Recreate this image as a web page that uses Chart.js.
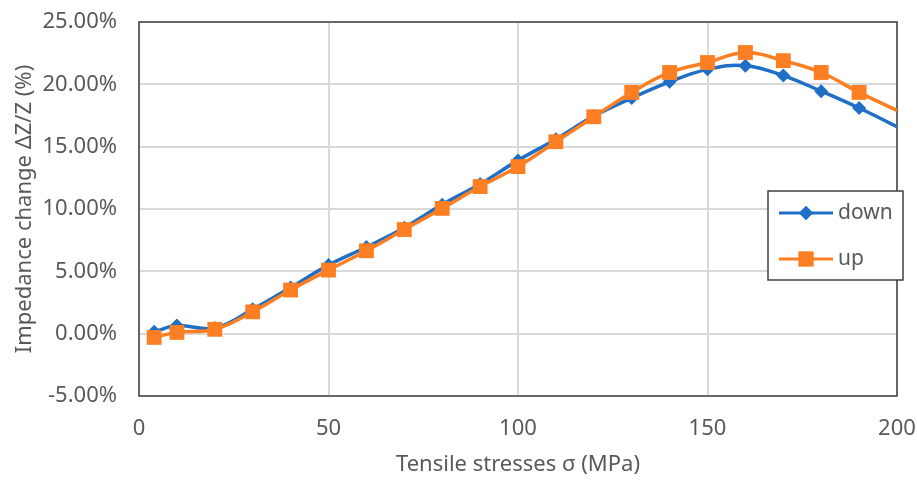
<!DOCTYPE html>
<html>
<head>
<meta charset="utf-8">
<script src="https://cdn.jsdelivr.net/npm/chart.js@4.4.1/dist/chart.umd.min.js"></script>
<style>
  html, body { margin: 0; padding: 0; background: #fff; overflow: hidden; }
  #wrap { width: 917px; height: 482px; position: relative; }
  canvas { display: block; }
</style>
</head>
<body>
<div id="wrap"><canvas id="impedance_chart"></canvas></div>
<script>
// Tensile stress (MPa) and impedance change (%)
var stress = [4, 10, 20, 30, 40, 50, 60, 70, 80, 90, 100, 110, 120, 130, 140, 150, 160, 170, 180, 190, 200];
var down = [0.15, 0.65, 0.45, 1.95, 3.7, 5.5, 6.95, 8.5, 10.35, 12.0, 13.9, 15.6, 17.45, 18.9, 20.2, 21.2, 21.5, 20.7, 19.45, 18.1, 16.6];
var up = [-0.3, 0.1, 0.35, 1.75, 3.5, 5.1, 6.65, 8.35, 10.05, 11.8, 13.4, 15.4, 17.4, 19.35, 20.95, 21.75, 22.55, 21.9, 20.95, 19.35, 17.9];
var xTicks = [0, 50, 100, 150, 200];
var yTicks = [-5, 0, 5, 10, 15, 20, 25];

var blue = '#1f6fc6';
var orange = '#fd7f23';
var textColor = '#595959';
var fontFamily = "'Noto Sans', 'Open Sans', sans-serif";

function toPoints(ys) {
    return stress.map(function(x, i) { return {x: x, y: ys[i]}; });
}
// last point sits on the right border without a marker
var radiusList = function(r) {
    return stress.map(function(x, i) { return i === stress.length - 1 ? 0 : r; });
};

// plot frame and legend box (drawn like the spreadsheet original)
var framePlugin = {
    id: 'frame',
    beforeDatasetsDraw: function(chart) {
        var a = chart.chartArea, ctx = chart.ctx;
        ctx.save();
        ctx.strokeStyle = '#404040';
        ctx.lineWidth = 1.5;
        ctx.strokeRect(a.left, a.top, a.right - a.left, a.bottom - a.top);
        ctx.restore();
    },
    afterDraw: function(chart) {
        var ctx = chart.ctx;
        var bx = 768, by = 191, bw = 135, bh = 89;
        ctx.save();
        ctx.fillStyle = '#fff';
        ctx.fillRect(bx, by, bw, bh);
        ctx.strokeStyle = '#404040';
        ctx.lineWidth = 1.5;
        ctx.strokeRect(bx, by, bw, bh);
        var rows = [
            {label: 'down', color: blue, style: 'rectRot', r: 7, y: by + 22},
            {label: 'up', color: orange, style: 'rect', r: 10.5, y: by + 68}
        ];
        rows.forEach(function(row) {
            ctx.strokeStyle = row.color;
            ctx.lineWidth = 3;
            ctx.beginPath();
            ctx.moveTo(bx + 11, row.y);
            ctx.lineTo(bx + 65, row.y);
            ctx.stroke();
            ctx.fillStyle = row.color;
            Chart.helpers.drawPoint(ctx, {pointStyle: row.style, radius: row.r, borderWidth: 0}, bx + 38, row.y);
            ctx.fill();
            ctx.fillStyle = textColor;
            ctx.font = '21px ' + fontFamily;
            ctx.textBaseline = 'middle';
            ctx.textAlign = 'left';
            ctx.fillText(row.label, bx + 70, row.y);
        });
        ctx.restore();
    }
};

var chartData = {
    datasets: [
        {
            label: 'down',
            data: toPoints(down),
            borderColor: blue,
            backgroundColor: blue,
            borderWidth: 3.5,
            pointStyle: 'rectRot',
            pointRadius: radiusList(7),
            pointBorderWidth: 0,
            tension: 0.4,
            order: 2
        },
        {
            label: 'up',
            data: toPoints(up),
            borderColor: orange,
            backgroundColor: orange,
            borderWidth: 3.5,
            pointStyle: 'rect',
            pointRadius: radiusList(10.5),
            pointBorderWidth: 0,
            tension: 0.4,
            order: 1
        }
    ]
};

var chartOptions = {
    responsive: true,
    maintainAspectRatio: false,
    animation: false,
    layout: { padding: { top: 22, right: 20, left: 0, bottom: 0 } },
    plugins: {
        legend: { display: false },
        tooltip: { enabled: false }
    },
    scales: {
        x: {
            type: 'linear',
            min: 0,
            max: 200,
            afterBuildTicks: function(axis) {
                axis.ticks = xTicks.map(function(v) { return {value: v}; });
            },
            grid: { color: '#d9d9d9', lineWidth: 2, drawTicks: false },
            border: { display: false },
            ticks: { color: textColor, font: { size: 22, family: fontFamily }, padding: 20, maxRotation: 0 },
            title: {
                display: true,
                text: 'Tensile stresses σ (MPa)',
                color: textColor,
                font: { size: 22, family: fontFamily },
                padding: { top: 0, bottom: 4 }
            },
            afterFit: function(axis) {
                axis.height = 86;
                axis.paddingLeft = 0;
                axis.paddingRight = 0;
            }
        },
        y: {
            type: 'linear',
            min: -5,
            max: 25,
            afterBuildTicks: function(axis) {
                axis.ticks = yTicks.map(function(v) { return {value: v}; });
            },
            grid: { color: '#d9d9d9', lineWidth: 2, drawTicks: false },
            border: { display: false },
            ticks: {
                color: textColor,
                font: { size: 22, family: fontFamily },
                padding: 22,
                callback: function(v) { return v.toFixed(2) + '%'; }
            },
            title: {
                display: true,
                text: 'Impedance change ΔZ/Z (%)',
                color: textColor,
                font: { size: 22, family: fontFamily },
                padding: { top: 12, bottom: 0 }
            },
            afterFit: function(axis) {
                axis.width = 139;
                axis.paddingTop = 0;
                axis.paddingBottom = 0;
            }
        }
    }
};

var ctx = document.getElementById('impedance_chart').getContext('2d');
new Chart(ctx, {type: 'line', data: chartData, options: chartOptions, plugins: [framePlugin]});
</script>
</body>
</html>
